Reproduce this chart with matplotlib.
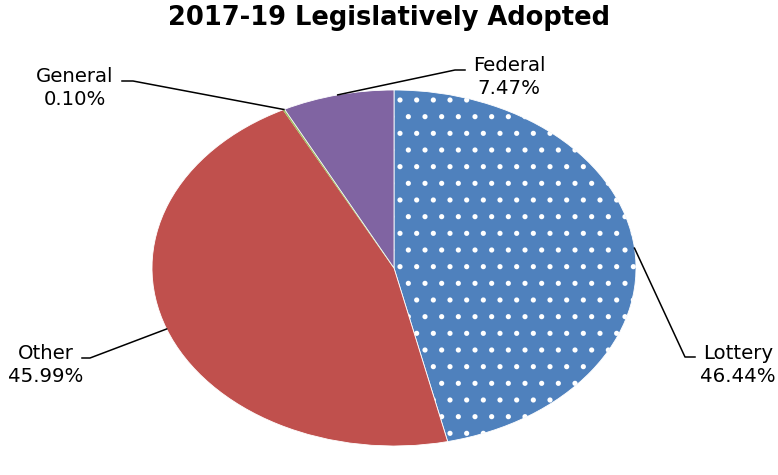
import numpy as np
import matplotlib
matplotlib.use("Agg")
import matplotlib.pyplot as plt

title = "2017-19 Legislatively Adopted"
labels = ["Lottery", "Other", "General", "Federal"]
shares = [46.44, 45.99, 0.10, 7.47]
colors = ["#4F81BD", "#C0504D", "#9BBB59", "#8064A2"]

W, H = 778, 475
CX, CY, RX, RY = 394, 268, 242, 178

plt.rcParams["hatch.linewidth"] = 1.3


def px(x, y):
    # pixel position -> data coords of the stretched pie axes
    return (x - CX) / RX, (CY - y) / RY


fig = plt.figure(figsize=(W / 100, H / 100), dpi=100)
ax = fig.add_axes([(CX - RX) / W, (H - CY - RY) / H, 2 * RX / W, 2 * RY / H])
wedges, _ = ax.pie(shares, colors=colors, startangle=90, counterclock=False,
                   wedgeprops=dict(edgecolor="white", linewidth=0.6))
ax.set_aspect("auto")
ax.set_xlim(-1, 1)
ax.set_ylim(-1, 1)
ax.set_axis_off()
wedges[0].set_hatch(".")
wedges[2].set_edgecolor("#9BBB59")

# label text centres and leader line elbows (pixels)
label_pos = [(738, 365), (46, 365), (75, 88), (509, 77)]
elbows = [[(685, 357), (695, 357)],
          [(90, 358), (82, 358)],
          [(133, 81), (122, 81)],
          [(455, 70), (465, 70)]]

for w, lab, val, pos, elb in zip(wedges, labels, shares, label_pos, elbows):
    ang = np.radians((w.theta1 + w.theta2) / 2)
    pts = [(np.cos(ang), np.sin(ang))] + [px(*p) for p in elb]
    xs, ys = zip(*pts)
    ax.plot(xs, ys, color="black", lw=1.1, clip_on=False)
    tx, ty = px(*pos)
    ax.text(tx, ty, f"{lab}\n{val:.2f}%", ha="center", va="center",
            fontsize=14.2, linespacing=1.25, color="black")

fig.text(0.5, 1 - 18 / H, title, ha="center", va="center",
         fontsize=18.5, fontweight="bold")

fig.savefig("out.png", dpi=100)
